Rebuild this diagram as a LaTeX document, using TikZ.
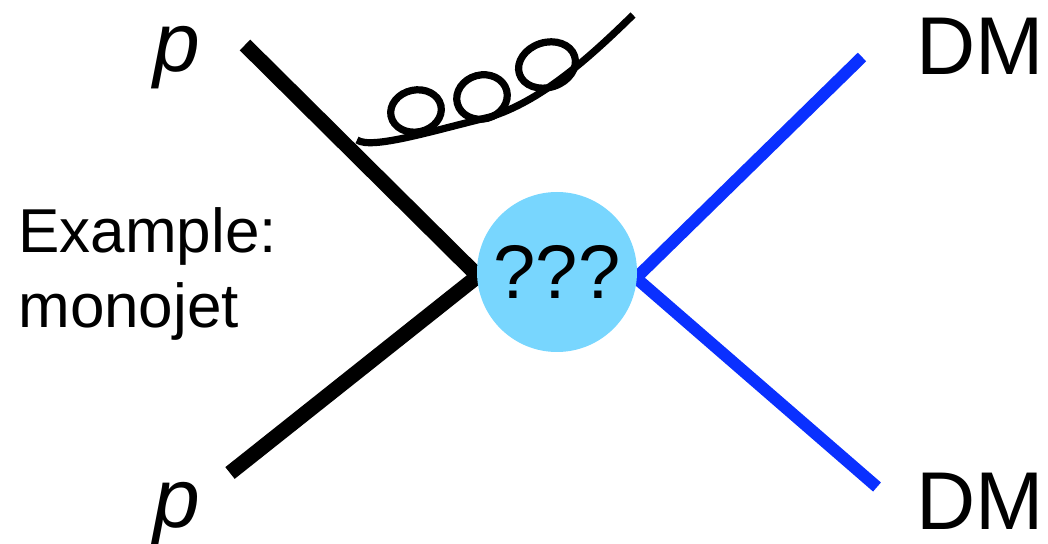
\documentclass[tikz,border=0pt]{standalone}
\usepackage{fontspec}
\setmainfont{Liberation Sans}
\definecolor{BlobBlue}{HTML}{78D6FE}
\definecolor{DMBlue}{HTML}{0A30FF}
\usetikzlibrary{positioning, calc}

\begin{document}
\begin{tikzpicture}[
  x=0.5pt, y=-0.5pt,
  quark/.style={draw=black, line width=7.5pt, line join=miter},
  dm/.style={draw=DMBlue, line width=6pt, line join=miter},
  gluon/.style={draw=black, line width=3.6pt},
  blob/.style={circle, fill=BlobBlue, inner sep=0pt, minimum size=80pt, font=\fontsize{38}{38}\selectfont},
  lbl/.style={inner sep=0pt, anchor=base, font=\fontsize{41}{41}\selectfont},
]
  \useasboundingbox (0,0) rectangle (1048,544);

  % incoming protons
  \coordinate (pin1) at (245,45);
  \coordinate (pin2) at (230,473);
  \coordinate (vl) at (478,276);
  \draw[quark] (pin1) -- (vl) -- (pin2);

  % outgoing dark matter
  \coordinate (dm1) at (862,57);
  \coordinate (dm2) at (877,487);
  \coordinate (vr) at (636,278);
  \draw[dm] (dm1) -- (vr) -- (dm2);

  % unknown interaction
  \node[blob] (int) at (557,272) {???};

  % gluon off the upper proton
  \coordinate (g0) at (357,140);
  \coordinate (gm) at (490,117);
  \coordinate (g1) at (633,15);
  \draw[gluon] (g0) .. controls (372,150) and (435,130) .. (gm)
    .. controls (540,101) and (585,62) .. (g1);
  \draw[gluon, rotate around={12:(416,111)}] (416,111) ellipse [x radius=25.5, y radius=21];
  \draw[gluon, rotate around={15:(482,97)}] (482,97) ellipse [x radius=25.5, y radius=22];
  \draw[gluon, rotate around={18:(547,65)}] (547,65) ellipse [x radius=29, y radius=22.5];

  % labels
  \node[lbl, font=\fontsize{42}{42}\selectfont\itshape] (p1) at (177,72) {p};
  \node[lbl, font=\fontsize{42}{42}\selectfont\itshape] (p2) at (177,527) {p};
  \node[lbl] (dmtop) at (980,75) {DM};
  \node[lbl] (dmbot) at (980,529) {DM};
  \node[lbl, anchor=base west, font=\fontsize{31}{31}\selectfont] (ex) at (18,253) {Example:};
  \node[lbl, anchor=base west, font=\fontsize{31}{31}\selectfont] (mono) at ($(ex.base west)+(0,75)$) {monojet};
\end{tikzpicture}
\end{document}
